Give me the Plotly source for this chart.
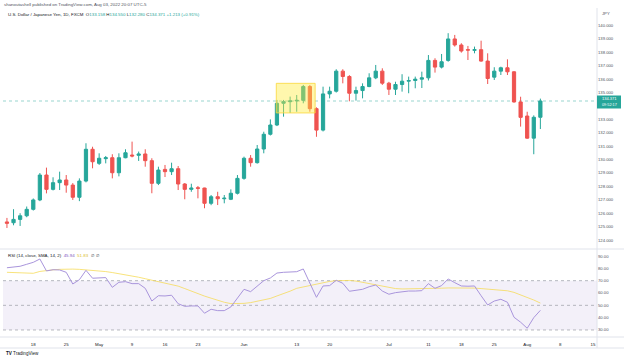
import numpy as np
import pandas as pd
import plotly.graph_objects as go

# ---------------- data ----------------
dates = pd.bdate_range("2022-04-12", "2022-08-03").strftime("%Y-%m-%d").tolist()

opens = [125.35, 125.29, 125.54, 125.81, 126.29, 126.99, 128.85, 127.78, 128.28, 128.48,
         128.10, 127.19, 128.40, 130.77, 129.72, 130.07, 130.14, 129.02, 130.14, 130.34,
         130.32, 130.42, 129.92, 128.23, 129.27, 129.10, 129.32, 128.18, 127.78, 127.90,
         127.88, 126.74, 127.23, 127.08, 127.04, 127.49, 128.60, 130.10, 129.77, 130.79,
         131.89, 132.58, 134.20, 134.32, 134.38, 134.42, 135.45, 133.80, 132.20, 134.90,
         135.10, 136.60, 136.20, 134.95, 135.15, 135.45, 136.10, 136.60, 135.70, 135.25,
         135.60, 135.85, 135.90, 136.00, 136.10, 137.40, 136.90, 137.40, 139.00, 138.55,
         138.20, 138.15, 138.20, 137.35, 136.15, 136.60, 136.85, 136.55, 134.30, 133.25,
         131.60, 133.158]
highs = [125.65, 126.30, 126.00, 126.50, 127.10, 129.00, 129.40, 128.68, 129.10, 128.85,
         128.25, 128.60, 131.22, 130.96, 130.47, 130.27, 130.40, 130.47, 130.77, 131.34,
         130.60, 130.77, 130.10, 129.47, 129.60, 129.77, 129.52, 128.25, 128.20, 128.03,
         127.90, 127.36, 127.60, 127.36, 127.78, 128.85, 130.22, 130.34, 131.09, 132.08,
         133.00, 134.45, 134.45, 134.70, 134.82, 135.57, 135.57, 133.90, 135.44, 135.44,
         136.74, 136.74, 136.30, 135.44, 135.69, 136.44, 137.06, 136.81, 135.80, 135.81,
         136.37, 136.19, 136.19, 136.56, 137.80, 137.56, 137.88, 139.43, 139.30, 138.68,
         138.48, 138.43, 138.87, 137.93, 136.89, 136.93, 137.48, 136.60, 134.69, 133.57,
         133.30, 134.55]
lows = [124.90, 125.10, 125.05, 125.70, 126.20, 126.90, 127.48, 127.70, 127.73, 127.53,
        126.99, 126.90, 128.30, 129.35, 129.60, 129.72, 128.60, 128.75, 130.10, 130.17,
        129.90, 129.47, 127.49, 128.10, 128.70, 128.85, 127.73, 127.04, 127.60, 127.11,
        126.37, 126.60, 126.61, 126.74, 126.98, 127.40, 128.50, 129.47, 129.70, 130.47,
        131.80, 132.50, 133.20, 133.48, 133.57, 134.20, 133.57, 131.70, 132.10, 134.57,
        135.00, 135.69, 134.35, 134.40, 134.57, 135.40, 136.00, 135.57, 134.82, 134.82,
        135.07, 134.95, 135.32, 135.34, 135.90, 136.49, 136.80, 137.30, 138.43, 137.98,
        137.43, 137.93, 137.30, 135.64, 135.94, 136.31, 136.31, 134.25, 132.46, 131.55,
        130.40, 132.28]
closes = [125.25, 125.54, 125.81, 126.29, 126.99, 128.85, 127.78, 128.28, 128.48, 128.10,
          127.19, 128.40, 130.77, 129.84, 130.10, 130.14, 129.02, 130.14, 130.51, 130.27,
          130.42, 129.92, 128.23, 129.22, 129.10, 129.32, 128.18, 127.78, 127.88, 127.86,
          126.74, 127.23, 127.08, 127.12, 127.49, 128.60, 130.10, 129.77, 130.79, 131.89,
          132.58, 134.20, 134.32, 134.38, 134.42, 135.45, 133.80, 132.20, 134.90, 135.10,
          136.60, 136.20, 134.95, 135.15, 135.45, 136.10, 136.60, 135.70, 135.25, 135.60,
          135.85, 135.90, 136.00, 136.10, 137.40, 136.90, 137.30, 139.00, 138.55, 138.10,
          138.17, 138.20, 137.35, 136.05, 136.60, 136.85, 136.55, 134.30, 133.15, 131.60,
          133.158, 134.371]

rsi = [80.5, 80.9, 81.7, 83.3, 84.9, 87.6, 77.9, 78.9, 78.7, 76.8,
       67.3, 70.8, 78.4, 72.0, 72.0, 72.5, 64.6, 68.7, 69.2, 67.6,
       67.6, 63.8, 53.5, 57.8, 57.6, 58.2, 51.3, 49.2, 49.5, 49.5,
       43.6, 46.8, 45.7, 45.7, 48.7, 56.2, 63.0, 61.1, 65.5, 70.0,
       72.2, 76.2, 76.8, 76.8, 77.3, 79.5, 67.5, 56.5, 65.7, 66.0,
       70.3, 67.9, 61.4, 61.9, 63.0, 65.1, 66.5, 61.6, 59.0, 60.3,
       61.1, 61.6, 61.6, 61.9, 67.6, 63.8, 66.0, 71.4, 68.4, 65.7,
       65.5, 65.7, 57.8, 50.3, 53.5, 54.9, 52.5, 40.3, 36.3, 31.4,
       40.0, 45.94]
rsi_ma = [76.8, 76.5, 76.3, 76.1, 76.0, 77.5, 78.3, 78.8, 79.2, 79.5,
          79.4, 79.2, 78.9, 78.5, 77.9, 77.4, 76.6, 75.8, 74.9, 73.8,
          72.8, 71.6, 70.4, 69.2, 68.1, 67.1, 65.6, 63.6, 61.4, 59.2,
          57.5, 55.8, 54.0, 52.5, 51.4, 51.3, 51.6, 52.2, 53.2, 54.2,
          55.6, 57.6, 59.4, 61.5, 63.8, 65.0, 66.3, 67.5, 68.6, 69.4,
          70.0, 70.3, 70.2, 69.7, 68.6, 67.6, 66.4, 65.3, 64.3, 63.6,
          63.3, 63.3, 63.4, 63.5, 63.7, 63.8, 63.9, 64.1, 64.2, 64.3,
          64.3, 64.0, 63.6, 63.2, 62.8, 62.4, 61.8, 60.5, 58.6, 56.5,
          54.3, 51.83]

tick_dates = ["2022-04-18", "2022-04-25", "2022-05-02", "2022-05-09", "2022-05-16",
              "2022-05-23", "2022-06-01", "2022-06-13", "2022-06-20", "2022-07-01",
              "2022-07-11", "2022-07-18", "2022-07-25", "2022-08-01", "2022-08-08",
              "2022-08-15"]
tick_labels = ["18", "25", "May", "9", "16", "23", "Jun", "13", "20", "Jul",
               "11", "18", "25", "Aug", "8", "15"]
# 134.000 is hidden behind the last-price label in the reference
price_ticks = [124, 125, 126, 127, 128, 129, 130, 131, 132, 133,
               135, 136, 137, 138, 139, 140]
rsi_ticks = [30, 40, 50, 60, 70, 80, 90]
rsi_levels = [70, 50, 30]
last_price = 134.371
box_dates = ["2022-06-08", "2022-06-15"]   # highlighted area (yellow box)
box_prices = [133.48, 135.69]

# ---------------- helpers ----------------
start = dates[0]
def pos(d):
    return int(np.busday_count(start, d))

xs = [pos(d) for d in dates]
tvals = [pos(d) for d in tick_dates]

W, H = 624, 360
ML, MR, MT, MB = 3, 27, 10, 23
PW, PH = W - ML - MR, H - MT - MB

def px(X):
    return (X - ML) / PW

def py(Y):
    return (H - MB - Y) / PH

UP = "#26a69a"
DN = "#ef5350"
FONT = "Liberation Sans, Arial, sans-serif"
TXT = "#131722"
GRAYTXT = "#50535e"
FS = 4.4

fig = go.Figure()

fig.add_trace(go.Candlestick(
    x=xs, open=opens, high=highs, low=lows, close=closes,
    increasing=dict(line=dict(color=UP, width=1), fillcolor=UP),
    decreasing=dict(line=dict(color=DN, width=1), fillcolor=DN),
    whiskerwidth=0, xaxis="x", yaxis="y", showlegend=False, hoverinfo="skip"))

fig.add_trace(go.Scatter(x=xs, y=rsi_ma, mode="lines",
                         line=dict(color="rgba(246,218,80,0.75)", width=1),
                         xaxis="x", yaxis="y2", showlegend=False, hoverinfo="skip"))
fig.add_trace(go.Scatter(x=xs, y=rsi, mode="lines",
                         line=dict(color="#a995dc", width=1),
                         xaxis="x", yaxis="y2", showlegend=False, hoverinfo="skip"))

shapes = []
# RSI band
shapes.append(dict(type="rect", xref="paper", yref="y2", x0=0, x1=1, y0=30, y1=70,
                   fillcolor="rgba(126,87,194,0.09)", line=dict(width=0), layer="below"))
for lv in rsi_levels:
    shapes.append(dict(type="line", xref="paper", yref="y2", x0=0, x1=1, y0=lv, y1=lv,
                       line=dict(color="#a3a6af", width=0.8, dash="dot"), layer="below"))
# last price line
shapes.append(dict(type="line", xref="paper", yref="y", x0=0, x1=1, y0=last_price, y1=last_price,
                   line=dict(color="rgba(38,166,154,0.6)", width=0.8, dash="dot"), layer="below"))
# yellow highlight box
shapes.append(dict(type="rect", xref="x", yref="y",
                   x0=pos(box_dates[0]) - 0.1, x1=pos(box_dates[1]) + 0.8,
                   y0=box_prices[0], y1=box_prices[1],
                   fillcolor="rgba(255,235,59,0.42)",
                   line=dict(color="rgba(250,215,60,0.8)", width=1), layer="above"))
# frame lines
LC = "#e0e3eb"
shapes.append(dict(type="line", xref="paper", yref="paper", x0=px(0), x1=px(W), y0=py(249), y1=py(249),
                   line=dict(color=LC, width=1)))
shapes.append(dict(type="line", xref="paper", yref="paper", x0=px(0), x1=px(W), y0=py(337), y1=py(337),
                   line=dict(color=LC, width=1)))
shapes.append(dict(type="line", xref="paper", yref="paper", x0=px(0), x1=px(W), y0=py(348), y1=py(348),
                   line=dict(color=LC, width=1)))
shapes.append(dict(type="line", xref="paper", yref="paper", x0=1, x1=1, y0=py(348), y1=py(8),
                   line=dict(color=LC, width=1)))
# price label box
shapes.append(dict(type="rect", xref="paper", yref="paper", x0=1, x1=px(621),
                   y0=py(108.5), y1=py(95.5), fillcolor=UP, line=dict(width=0)))

ann = []
def A(X, Y, text, size=FS, color=TXT, xanchor="left"):
    ann.append(dict(x=px(X), y=py(Y), xref="paper", yref="paper", text=text, showarrow=False,
                    xanchor=xanchor, yanchor="middle", font=dict(size=size, color=color, family=FONT)))

A(1.5, 4, "shanoutashell published on TradingView.com, Aug 03, 2022 20:07 UTC-5", color=GRAYTXT)
def g(v):
    return f"<span style='color:{UP}'>{v}</span>"
A(6, 14.3, "U.S. Dollar / Japanese Yen, 1D, FXCM  O" + g("133.158") + " H" + g("134.550") +
  " L" + g("132.280") + " C" + g("134.371") + " " + g("+1.213 (+0.91%)"))
A(6, 255.5, "RSI (14, close, SMA, 14, 2)  <span style='color:#7e57c2'>45.94</span>  "
  "<span style='color:#d9bd2e'>51.83</span>  ∅  ∅")
A(600, 13.5, "JPY", size=4.2, color=GRAYTXT)
A(609, 98.8, "134.371", size=4.0, color="white", xanchor="center")
A(609, 105.3, "09:52:17", size=3.8, color="white", xanchor="center")
A(4, 353, "<b>TV</b> TradingView", size=4.6, color=TXT)

fig.update_layout(
    width=W, height=H,
    margin=dict(l=ML, r=MR, t=MT, b=MB),
    paper_bgcolor="white", plot_bgcolor="white",
    shapes=shapes, annotations=ann,
    font=dict(family=FONT, size=FS, color=TXT),
    xaxis=dict(domain=[0, 1], anchor="y2", range=[-0.6, 89.6],
               tickmode="array", tickvals=tvals, ticktext=tick_labels,
               showgrid=False, zeroline=False, showline=False,
               ticks="outside", ticklen=3, tickcolor="rgba(0,0,0,0)",
               tickfont=dict(size=4.4, color=TXT), rangeslider=dict(visible=False),
               fixedrange=True),
    yaxis=dict(domain=[py(247), 1], anchor="x", side="right", range=[123.48, 141.16],
               tickmode="array", tickvals=price_ticks,
               ticktext=[f"{v:.3f}" for v in price_ticks],
               showgrid=False, zeroline=False, showline=False, ticks="",
               tickfont=dict(size=4.2, color=GRAYTXT)),
    yaxis2=dict(domain=[0, py(250)], anchor="x", side="right", range=[24.3, 94.9],
                tickmode="array", tickvals=rsi_ticks,
                ticktext=[f"{v:.2f}" for v in rsi_ticks],
                showgrid=False, zeroline=False, showline=False, ticks="",
                tickfont=dict(size=4.2, color=GRAYTXT)),
)

fig.write_html("out.html", config={"displayModeBar": False},
               post_script="document.body.style.margin='0';document.body.style.padding='0';")
